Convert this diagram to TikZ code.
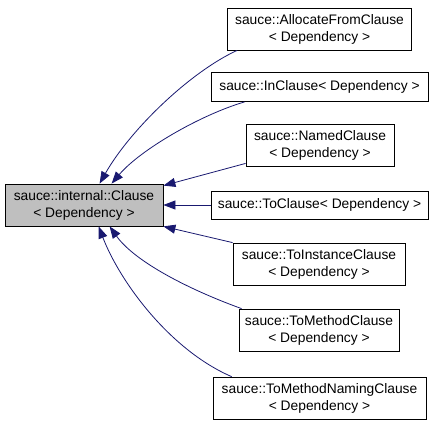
\documentclass[tikz,border=0pt]{standalone}
\usepackage{fontspec}
\setmainfont{Liberation Sans}
\usetikzlibrary{arrows.meta,calc}
\definecolor{edgeblue}{HTML}{191970}
\definecolor{basegray}{HTML}{BFBFBF}
\tikzset{
  cls/.style={draw=black, line width=0.8pt, fill=white, align=center, inner sep=0pt,
    font=\fontsize{13.8}{17}\selectfont},
  twoline/.style={cls, minimum height=42},
  oneline/.style={cls, minimum height=29},
  inherit/.style={draw=edgeblue, line width=0.8pt, -{Triangle[length=12pt,width=9pt]}, color=edgeblue}
}
\begin{document}
\begin{tikzpicture}[x=1pt,y=-1pt]
\useasboundingbox (0,0) rectangle (435,429);
\node[twoline, fill=basegray, minimum width=158] (base) at (84,205) {sauce::internal::Clause\\{<} Dependency {>}};
\node[twoline, minimum width=184] (alloc) at (319.5,29) {sauce::AllocateFromClause\\{<} Dependency {>}};
\node[oneline, minimum width=217] (inclause) at (319.5,87) {sauce::InClause{<} Dependency {>}};
\node[twoline, minimum width=148] (named) at (320,145) {sauce::NamedClause\\{<} Dependency {>}};
\node[oneline, minimum width=217, minimum height=28] (toclause) at (319.5,205) {sauce::ToClause{<} Dependency {>}};
\node[twoline, minimum width=172] (toinst) at (319,264) {sauce::ToInstanceClause\\{<} Dependency {>}};
\node[twoline, minimum width=160] (tomethod) at (319,330) {sauce::ToMethodClause\\{<} Dependency {>}};
\node[twoline, minimum width=213] (tonaming) at (319.5,398) {sauce::ToMethodNamingClause\\{<} Dependency {>}};

\draw[inherit] ($(alloc.south west)+(10,0)$) .. controls (190,72) and (130,130) .. ($(base.north west)+(95,0)$);
\draw[inherit] ($(inclause.south west)+(34,0)$) .. controls (200,115) and (140,150) .. ($(base.north west)+(107,0)$);
\draw[inherit] ($(named.south west)+(0,-3)$) -- ($(base.north east)+(0,2)$);
\draw[inherit] (toclause.west) -- (toclause.west -| base.east);
\draw[inherit] (toinst.north west) -- ($(base.south east)$);
\draw[inherit] ($(tomethod.north west)+(3,0)$) .. controls (190,290) and (135,262) .. ($(base.south west)+(105,0)$);
\draw[inherit] ($(tonaming.north west)+(19,0)$) .. controls (170,350) and (120,282) .. ($(base.south west)+(94,0)$);
\end{tikzpicture}
\end{document}
